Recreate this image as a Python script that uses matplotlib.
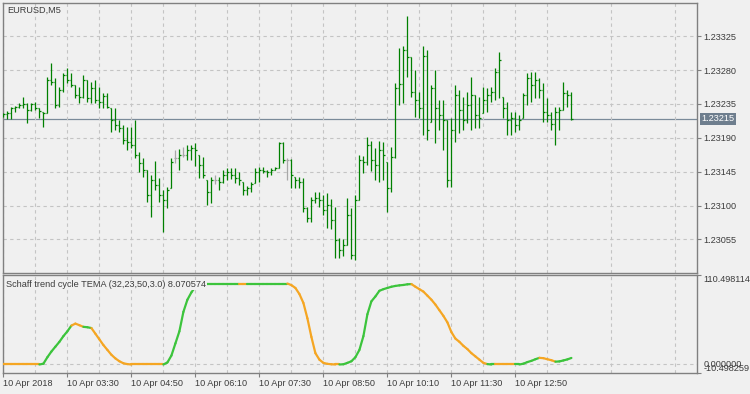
import numpy as np
import matplotlib.pyplot as plt
from matplotlib.collections import LineCollection

plt.rcParams['font.family'] = ['Liberation Sans', 'DejaVu Sans']

# EURUSD M5 bars, prices in points (1e-5)
bar_high = [123223, 123226, 123231, 123232, 123236, 123244, 123236, 123236, 123238, 123230,
            123224, 123271, 123289, 123269, 123257, 123276, 123283, 123276, 123260, 123257,
            123273, 123267, 123264, 123267, 123257, 123249, 123249, 123230, 123230, 123214,
            123207, 123204, 123204, 123214, 123171, 123163, 123147, 123141, 123159, 123137,
            123121, 123125, 123163, 123174, 123175, 123178, 123180, 123180, 123183, 123167,
            123164, 123134, 123138, 123141, 123138, 123147, 123150, 123150, 123150, 123145,
            123131, 123126, 123131, 123150, 123151, 123151, 123147, 123150, 123151, 123184,
            123184, 123163, 123162, 123138, 123138, 123137, 123098, 123111, 123118, 123118,
            123114, 123117, 123109, 123098, 123057, 123056, 123110, 123097, 123114, 123167,
            123166, 123191, 123186, 123176, 123186, 123184, 123158, 123178, 123263, 123309,
            123312, 123352, 123297, 123280, 123251, 123312, 123307, 123260, 123280, 123240,
            123240, 123214, 123216, 123260, 123253, 123244, 123251, 123271, 123247, 123244,
            123257, 123256, 123257, 123283, 123304, 123244, 123238, 123224, 123224, 123220,
            123249, 123276, 123277, 123277, 123269, 123263, 123243, 123224, 123231, 123231,
            123264, 123253, 123251]
bar_low = [123218, 123215, 123215, 123224, 123230, 123230, 123210, 123226, 123227, 123216,
           123204, 123223, 123260, 123230, 123231, 123251, 123263, 123257, 123243, 123236,
           123243, 123238, 123236, 123236, 123230, 123230, 123230, 123198, 123200, 123198,
           123182, 123174, 123176, 123163, 123145, 123138, 123105, 123085, 123121, 123105,
           123065, 123097, 123123, 123157, 123147, 123164, 123161, 123161, 123153, 123137,
           123137, 123101, 123103, 123129, 123121, 123130, 123134, 123135, 123130, 123127,
           123114, 123114, 123118, 123130, 123131, 123143, 123138, 123141, 123147, 123150,
           123157, 123134, 123123, 123123, 123123, 123091, 123078, 123078, 123103, 123098,
           123087, 123070, 123069, 123030, 123030, 123033, 123048, 123029, 123028, 123107,
           123143, 123154, 123146, 123134, 123131, 123134, 123091, 123118, 123163, 123234,
           123236, 123271, 123244, 123218, 123216, 123194, 123187, 123211, 123183, 123200,
           123174, 123125, 123125, 123184, 123196, 123200, 123210, 123200, 123203, 123203,
           123223, 123224, 123238, 123240, 123243, 123216, 123194, 123194, 123198, 123200,
           123216, 123234, 123238, 123243, 123243, 123211, 123211, 123200, 123180, 123200,
           123227, 123231, 123214]
bar_open = [123219, 123222, 123223, 123230, 123231, 123234, 123235, 123227, 123235, 123230,
            123224, 123223, 123267, 123264, 123234, 123253, 123273, 123267, 123260, 123247,
            123244, 123267, 123243, 123256, 123240, 123238, 123246, 123230, 123214, 123207,
            123203, 123187, 123184, 123180, 123167, 123157, 123147, 123114, 123134, 123127,
            123114, 123107, 123123, 123163, 123163, 123167, 123167, 123174, 123176, 123167,
            123154, 123134, 123118, 123134, 123134, 123131, 123141, 123145, 123141, 123137,
            123131, 123121, 123123, 123130, 123145, 123147, 123146, 123145, 123147, 123150,
            123183, 123161, 123161, 123138, 123134, 123131, 123097, 123083, 123107, 123110,
            123107, 123094, 123101, 123081, 123054, 123041, 123048, 123087, 123034, 123107,
            123161, 123158, 123180, 123161, 123154, 123174, 123158, 123123, 123164, 123256,
            123261, 123307, 123297, 123251, 123240, 123230, 123299, 123211, 123256, 123230,
            123220, 123214, 123134, 123200, 123247, 123227, 123214, 123234, 123247, 123220,
            123223, 123240, 123247, 123251, 123277, 123244, 123230, 123214, 123216, 123207,
            123216, 123247, 123269, 123260, 123267, 123253, 123224, 123220, 123208, 123224,
            123227, 123249, 123247]
bar_close = [123222, 123223, 123230, 123231, 123234, 123235, 123227, 123235, 123230, 123226,
             123223, 123267, 123264, 123234, 123253, 123273, 123267, 123260, 123247, 123244,
             123267, 123243, 123256, 123240, 123238, 123246, 123231, 123214, 123207, 123203,
             123187, 123184, 123180, 123167, 123157, 123147, 123114, 123134, 123127, 123114,
             123107, 123121, 123158, 123163, 123167, 123167, 123174, 123176, 123174, 123154,
             123141, 123118, 123134, 123134, 123131, 123141, 123145, 123141, 123137, 123134,
             123121, 123123, 123129, 123145, 123147, 123146, 123145, 123147, 123150, 123183,
             123161, 123161, 123141, 123134, 123131, 123097, 123083, 123107, 123110, 123107,
             123094, 123101, 123081, 123054, 123041, 123048, 123087, 123034, 123107, 123161,
             123158, 123180, 123161, 123154, 123174, 123167, 123123, 123164, 123256, 123261,
             123307, 123297, 123251, 123240, 123230, 123299, 123200, 123256, 123230, 123220,
             123214, 123134, 123200, 123247, 123227, 123214, 123234, 123247, 123220, 123216,
             123240, 123247, 123251, 123277, 123293, 123230, 123214, 123216, 123207, 123214,
             123247, 123269, 123260, 123267, 123253, 123224, 123220, 123208, 123224, 123227,
             123249, 123247, 123215]

# Schaff trend cycle TEMA values per bar
stc = [0, 0, 0, 0, 0, 0, 0, 0, 0, 0,
       1, 9, 16, 22, 28, 35, 41, 48, 50.5, 48.5,
       46.5, 46, 45, 38, 31, 24, 18, 12, 7.5, 4,
       1.5, 0.5, 0, 0, 0, 0, 0, 0, 0, 0,
       0, 2.5, 11, 26, 41, 65, 80, 89, 96, 99,
       100, 100, 100, 100, 100, 100, 100, 100, 100, 100,
       100, 100, 100, 100, 100, 100, 100, 100, 100, 100,
       100, 100, 98, 94.5, 87, 76, 57, 34, 14, 6,
       2, 0.8, 0.3, 0, 0, 0.3, 2, 4, 9, 18,
       35, 62, 78, 84, 91, 93, 94.5, 96, 97, 97.7,
       98.2, 99, 99.3, 96, 93, 90, 85, 80, 74, 67,
       60, 52, 40, 32, 28, 23, 19, 14, 10, 6,
       2, 0.5, 0, 0, 0, 0, 0, 0, 0, 0,
       1, 3, 4.5, 6.5, 8.2, 7.8, 6.5, 5.3, 3.5, 3.8,
       5, 6.3, 8.070574]
# colour runs of the indicator line (up = green, down = orange)
stc_runs = [("dn", 10), ("up", 8), ("dn", 3), ("up", 2), ("dn", 18), ("up", 19),
            ("dn", 2), ("up", 10), ("dn", 13), ("up", 18), ("dn", 19), ("up", 2),
            ("dn", 5), ("up", 6), ("dn", 4), ("up", 4)]

time_labels = ["10 Apr 2018", "10 Apr 03:30", "10 Apr 04:50", "10 Apr 06:10", "10 Apr 07:30",
               "10 Apr 08:50", "10 Apr 10:10", "10 Apr 11:30", "10 Apr 12:50"]
price_ticks = [1.23055, 1.23100, 1.23145, 1.23190, 1.23235, 1.23280, 1.23325]
bid = 1.23215
stc_min, stc_max = -10.498259, 110.498114

BG = '#f0f0f0'
FRAME = '#808080'
GRID = '#c4c4c4'
TXT = '#3c3c3c'
FS = 6.6

hi = np.array(bar_high) / 1e5
lo = np.array(bar_low) / 1e5
op = np.array(bar_open) / 1e5
cl = np.array(bar_close) / 1e5
n = len(hi)
x = np.arange(n)

fig = plt.figure(figsize=(7.5, 3.94), dpi=100, facecolor=BG)
ax1 = fig.add_axes([3 / 750, 1 - 273 / 394, 694 / 750, 270 / 394])
ax2 = fig.add_axes([3 / 750, 1 - 373 / 394, 694 / 750, 98 / 394])

for ax in (ax1, ax2):
    ax.set_facecolor(BG)
    for s in ax.spines.values():
        s.set_color(FRAME)
        s.set_linewidth(1.0)
    ax.set_xlim(-0.1, 173.4)
    ax.set_xticks(np.arange(0, 129, 16))
    ax.set_xticks(np.arange(8, 173, 16), minor=True)
    ax.grid(True, which='both', axis='x', color=GRID, lw=0.8, ls=(0, (3, 3)))
    ax.yaxis.tick_right()
    ax.tick_params(axis='y', direction='out', length=3, width=0.8, color=FRAME,
                   pad=1.5, labelsize=FS, labelcolor=TXT)
    ax.tick_params(axis='x', which='minor', length=0)

# price panel
ax1.set_ylim(1.230105, 1.23369)
ax1.set_yticks(price_ticks)
ax1.set_yticklabels(["%.5f" % p for p in price_ticks])
ax1.grid(True, axis='y', color=GRID, lw=0.8, ls=(0, (3, 3)))
ax1.tick_params(axis='x', length=0, labelbottom=False)

ax1.axhline(bid, color='#7a8a99', lw=0.9, zorder=1)
colors = ['#a8a8a8' if o == c else '#008000' for o, c in zip(bar_open, bar_close)]
ax1.vlines(x, lo, hi, colors=colors, lw=0.9, zorder=3)
ax1.hlines(op, x - 0.35, x, colors=colors, lw=0.9, zorder=3)
ax1.hlines(cl, x, x + 0.35, colors=colors, lw=0.9, zorder=3)

ax1.text(0.0055, 0.974, "EURUSD,M5", transform=ax1.transAxes, fontsize=FS,
         color=TXT, ha='left', va='center')
ax1.annotate("%.5f" % bid, xy=(1, bid), xycoords=('axes fraction', 'data'),
             xytext=(3.2, 0), textcoords='offset points', ha='left', va='center',
             fontsize=FS, color='white', annotation_clip=False,
             bbox=dict(boxstyle='square,pad=0.15', fc='#6e7e8e', ec='none'))

# indicator panel
ax2.set_ylim(stc_min, stc_max)
ax2.set_yticks([stc_min, stc_max])
ax2.set_yticklabels(["", ""])
ax2.axhline(0, color=GRID, lw=0.8, ls=(0, (3, 3)), zorder=1)
ax2.set_xticklabels(time_labels)
ax2.tick_params(axis='x', which='major', direction='out', length=3, width=0.8,
                color=FRAME, pad=1, labelsize=FS, labelcolor=TXT)
for lab in ax2.get_xticklabels():
    lab.set_ha('left')

seg_col = []
for state, cnt in stc_runs:
    seg_col += [('#3cc43c' if state == "up" else '#f5a623')] * cnt
pts = np.column_stack([x, stc])
segs = [pts[i - 1:i + 1] for i in range(1, n)]
lc = LineCollection(segs, colors=seg_col[1:], linewidths=1.6, capstyle='round', zorder=3)
ax2.add_collection(lc)

ax2.text(0.0043, 0.898, "Schaff trend cycle TEMA (32,23,50,3.0) %.6f" % stc[-1],
         transform=ax2.transAxes, fontsize=FS, color=TXT, ha='left', va='center',
         zorder=5, bbox=dict(boxstyle='square,pad=0.1', fc=BG, ec='none'))

ax2.text(1.009, stc_max, "%.6f" % stc_max, transform=ax2.get_yaxis_transform(),
         fontsize=FS, color=TXT, ha='left', va='top', clip_on=False)
ax2.text(1.009, 0, "%.6f" % 0, transform=ax2.get_yaxis_transform(),
         fontsize=FS, color=TXT, ha='left', va='center', clip_on=False)
ax2.text(1.009, stc_min, "%.6f" % stc_min, transform=ax2.get_yaxis_transform(),
         fontsize=FS, color=TXT, ha='left', va='bottom', clip_on=False)

fig.savefig("out.png", dpi=100, facecolor=BG)
